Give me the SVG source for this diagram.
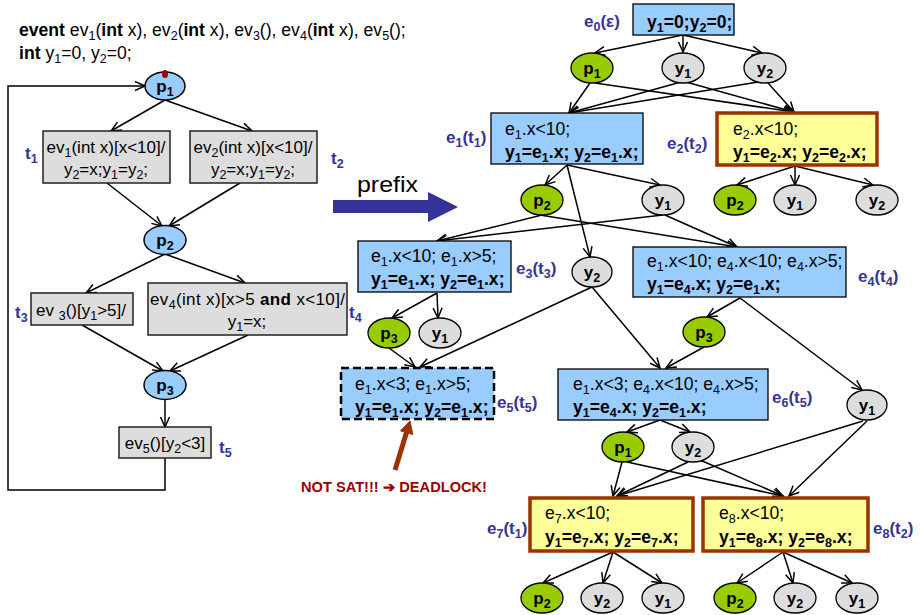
<svg xmlns="http://www.w3.org/2000/svg" width="920" height="615" viewBox="0 0 920 615">
<defs>
<marker id="a" viewBox="-12 -7 14 14" refX="0" refY="0" markerWidth="14" markerHeight="14" markerUnits="userSpaceOnUse" orient="auto">
<path d="M-10,-4.5 L0,0 L-10,4.5" fill="none" stroke="#000" stroke-width="1.5"/>
</marker>
</defs>
<style>
text{font-family:"Liberation Sans",Arial,Helvetica,sans-serif;fill:#000}
.f16{font-size:17px}
.f17{font-size:17.6px}
.b{font-weight:bold}
.s{font-size:12.5px;baseline-shift:-4px}
.ctr{text-anchor:middle}
.lab{fill:#333399;font-weight:bold;font-size:17px}
.blue{fill:#99ccff;stroke:#000;stroke-width:1.3}
.yel{fill:#ffff99;stroke:#993300;stroke-width:3.5}
.dash{fill:#99ccff;stroke:#000;stroke-width:2.5;stroke-dasharray:8 4}
.grn{fill:#99cc00;stroke:#000;stroke-width:1.3}
.gry{fill:#dddddd;stroke:#000;stroke-width:1.3}
.pl{fill:#99ccff;stroke:#000;stroke-width:1.5}
.lbox{fill:#dddddd;stroke:#222;stroke-width:1.5}
.e{stroke:#000;stroke-width:1.5;fill:none;marker-end:url(#a)}
.nt{font-size:17px;font-weight:bold;text-anchor:middle}
</style>

<!-- declarations -->
<g id="code" class="f17">
<text x="19" y="36"><tspan class="b">event</tspan> ev<tspan class="s">1</tspan>(<tspan class="b">int</tspan> x), ev<tspan class="s">2</tspan>(<tspan class="b">int</tspan> x), ev<tspan class="s">3</tspan>(), ev<tspan class="s">4</tspan>(<tspan class="b">int</tspan> x), ev<tspan class="s">5</tspan>();</text>
<text x="19" y="59"><tspan class="b">int</tspan> y<tspan class="s">1</tspan>=0, y<tspan class="s">2</tspan>=0;</text>
</g>

<!-- connectors -->
<g id="connectors">
<!-- left program graph -->
<line class="e" x1="165" y1="100" x2="111" y2="131"/>
<line class="e" x1="165" y1="100" x2="252" y2="131"/>
<line class="e" x1="107" y1="183" x2="162" y2="226"/>
<line class="e" x1="240" y1="183" x2="169" y2="226"/>
<line class="e" x1="165" y1="254" x2="86" y2="293"/>
<line class="e" x1="165" y1="254" x2="245" y2="283"/>
<line class="e" x1="82" y1="325" x2="163" y2="371"/>
<line class="e" x1="248" y1="335" x2="170" y2="371"/>
<line class="e" x1="165" y1="399" x2="165" y2="427"/>
<path class="e" d="M165,458 V490 H8 V86 H145"/>
<!-- unfolding top -->
<line class="e" x1="683" y1="35" x2="595" y2="53"/>
<line class="e" x1="683" y1="35" x2="683" y2="52"/>
<line class="e" x1="683" y1="35" x2="762" y2="53"/>
<line class="e" x1="590" y1="83" x2="569" y2="113"/>
<line class="e" x1="681" y1="82" x2="569" y2="113"/>
<line class="e" x1="758" y1="82" x2="569" y2="113"/>
<line class="e" x1="595" y1="83" x2="794" y2="112"/>
<line class="e" x1="686" y1="82" x2="794" y2="112"/>
<line class="e" x1="768" y1="83" x2="794" y2="112"/>
<!-- e1 / e2 children -->
<line class="e" x1="567" y1="165" x2="545" y2="185"/>
<line class="e" x1="567" y1="165" x2="660" y2="185"/>
<line class="e" x1="567" y1="165" x2="590" y2="257"/>
<line class="e" x1="795" y1="166" x2="737" y2="185"/>
<line class="e" x1="795" y1="166" x2="795" y2="185"/>
<line class="e" x1="795" y1="166" x2="873" y2="185"/>
<!-- into e3, e4 -->
<line class="e" x1="542" y1="215" x2="437" y2="241"/>
<line class="e" x1="663" y1="215" x2="437" y2="241"/>
<line class="e" x1="540" y1="215" x2="737" y2="247"/>
<line class="e" x1="665" y1="215" x2="737" y2="247"/>
<!-- e3 children -->
<line class="e" x1="437" y1="293" x2="392" y2="318"/>
<line class="e" x1="437" y1="293" x2="438" y2="318"/>
<!-- e4 children -->
<line class="e" x1="740" y1="298" x2="707" y2="317"/>
<line class="e" x1="740" y1="298" x2="862" y2="390"/>
<!-- into e5 -->
<line class="e" x1="389" y1="348" x2="415" y2="367"/>
<line class="e" x1="592" y1="287" x2="420" y2="367"/>
<!-- into e6 -->
<line class="e" x1="592" y1="287" x2="660" y2="368"/>
<line class="e" x1="704" y1="347" x2="666" y2="368"/>
<!-- e6 children -->
<line class="e" x1="660" y1="420" x2="627" y2="432"/>
<line class="e" x1="660" y1="420" x2="690" y2="432"/>
<!-- into e7, e8 -->
<line class="e" x1="622" y1="462" x2="613" y2="496"/>
<line class="e" x1="627" y1="462" x2="783" y2="496"/>
<line class="e" x1="688" y1="462" x2="617" y2="496"/>
<line class="e" x1="700" y1="460" x2="783" y2="496"/>
<line class="e" x1="863" y1="421" x2="617" y2="496"/>
<line class="e" x1="867" y1="421" x2="789" y2="496"/>
<!-- e7 / e8 children -->
<line class="e" x1="613" y1="552" x2="543" y2="583"/>
<line class="e" x1="613" y1="552" x2="603" y2="583"/>
<line class="e" x1="613" y1="552" x2="662" y2="583"/>
<line class="e" x1="783" y1="552" x2="737" y2="583"/>
<line class="e" x1="783" y1="552" x2="793" y2="583"/>
<line class="e" x1="783" y1="552" x2="852" y2="583"/>
<!-- deadlock pointer -->
<line x1="395" y1="470" x2="406.5" y2="432.5" stroke="#993300" stroke-width="5"/>
<polygon points="410,421 412.8,434.5 400.5,430.8" fill="#993300" stroke="#993300" stroke-width="1"/>
</g>

<!-- left program nodes -->
<g id="P1">
<ellipse class="pl" cx="165" cy="86" rx="20" ry="14"/>
<ellipse cx="165" cy="74" rx="3" ry="4" fill="#990000"/>
<text class="nt" x="165" y="92">p<tspan class="s">1</tspan></text>
</g>
<g id="T1" class="f16">
<rect class="lbox" x="43" y="131" width="127" height="52"/>
<text class="ctr" x="106" y="153">ev<tspan class="s">1</tspan>(int x)[x&lt;10]/</text>
<text class="ctr" x="106" y="175">y<tspan class="s">2</tspan>=x;y<tspan class="s">1</tspan>=y<tspan class="s">2</tspan>;</text>
<text class="lab" x="25" y="159">t<tspan class="s">1</tspan></text>
</g>
<g id="T2" class="f16">
<rect class="lbox" x="190" y="131" width="127" height="52"/>
<text class="ctr" x="253" y="153">ev<tspan class="s">2</tspan>(int x)[x&lt;10]/</text>
<text class="ctr" x="253" y="175">y<tspan class="s">2</tspan>=x;y<tspan class="s">1</tspan>=y<tspan class="s">2</tspan>;</text>
<text class="lab" x="331" y="164">t<tspan class="s">2</tspan></text>
</g>
<g id="P2">
<ellipse class="pl" cx="165" cy="240" rx="21" ry="14.5"/>
<text class="nt" x="165" y="246">p<tspan class="s">2</tspan></text>
</g>
<g id="T3" class="f16">
<rect class="lbox" x="31" y="293" width="102" height="32"/>
<text x="36" y="316">ev <tspan class="s">3</tspan>()[y<tspan class="s">1</tspan>&gt;5]/</text>
<text class="lab" x="15" y="318">t<tspan class="s">3</tspan></text>
</g>
<g id="T4" class="f16">
<rect class="lbox" x="148" y="283" width="199" height="52"/>
<text x="150" y="305" textLength="195" lengthAdjust="spacing">ev<tspan class="s">4</tspan>(int x)[x&gt;5 <tspan class="b">and</tspan> x&lt;10]/</text>
<text class="ctr" x="247" y="327">y<tspan class="s">1</tspan>=x;</text>
<text class="lab" x="349" y="318">t<tspan class="s">4</tspan></text>
</g>
<g id="P3">
<ellipse class="pl" cx="165" cy="385" rx="21" ry="14.5"/>
<text class="nt" x="165" y="391">p<tspan class="s">3</tspan></text>
</g>
<g id="T5" class="f16">
<rect class="lbox" x="119" y="427" width="92" height="31"/>
<text class="ctr" x="165" y="449">ev<tspan class="s">5</tspan>()[y<tspan class="s">2</tspan>&lt;3]</text>
<text class="lab" x="219" y="453">t<tspan class="s">5</tspan></text>
</g>

<!-- prefix arrow -->
<g id="prefix">
<polygon points="333,200 428,200 428,192 458,207 428,222 428,213 333,213" fill="#333399"/>
<text x="357" y="192" font-size="22" textLength="61" lengthAdjust="spacingAndGlyphs">prefix</text>
</g>

<!-- unfolding nodes -->
<g id="E0" class="f17">
<rect class="blue" x="633" y="4" width="101" height="31"/>
<text class="b" x="647" y="28">y<tspan class="s">1</tspan>=0;y<tspan class="s">2</tspan>=0;</text>
<text class="lab" x="584" y="27">e<tspan class="s">0</tspan>(ε)</text>
</g>
<g id="C0p1"><ellipse class="grn" cx="592" cy="68" rx="21" ry="15"/><text class="nt" x="592" y="74">p<tspan class="s">1</tspan></text></g>
<g id="C0y1"><ellipse class="gry" cx="683" cy="68" rx="21" ry="15"/><text class="nt" x="683" y="74">y<tspan class="s">1</tspan></text></g>
<g id="C0y2"><ellipse class="gry" cx="765" cy="68" rx="21" ry="15"/><text class="nt" x="765" y="74">y<tspan class="s">2</tspan></text></g>

<g id="E1" class="f17">
<rect class="blue" x="491" y="113" width="152" height="51"/>
<text x="505" y="135">e<tspan class="s">1</tspan>.x&lt;10;</text>
<text class="b" x="505" y="158">y<tspan class="s">1</tspan>=e<tspan class="s">1</tspan>.x; y<tspan class="s">2</tspan>=e<tspan class="s">1</tspan>.x;</text>
<text class="lab" x="446" y="143">e<tspan class="s">1</tspan>(t<tspan class="s">1</tspan>)</text>
</g>
<g id="E2" class="f17">
<rect class="yel" x="717" y="113" width="160" height="52"/>
<text x="733" y="135">e<tspan class="s">2</tspan>.x&lt;10;</text>
<text class="b" x="733" y="158">y<tspan class="s">1</tspan>=e<tspan class="s">2</tspan>.x; y<tspan class="s">2</tspan>=e<tspan class="s">2</tspan>.x;</text>
<text class="lab" x="667" y="149">e<tspan class="s">2</tspan>(t<tspan class="s">2</tspan>)</text>
</g>
<g id="C1p2"><ellipse class="grn" cx="542" cy="200" rx="21" ry="15"/><text class="nt" x="542" y="206">p<tspan class="s">2</tspan></text></g>
<g id="C1y1"><ellipse class="gry" cx="663" cy="200" rx="21" ry="15"/><text class="nt" x="663" y="206">y<tspan class="s">1</tspan></text></g>
<g id="C2p2"><ellipse class="grn" cx="735" cy="200" rx="21" ry="15"/><text class="nt" x="735" y="206">p<tspan class="s">2</tspan></text></g>
<g id="C2y1"><ellipse class="gry" cx="795" cy="200" rx="21" ry="15"/><text class="nt" x="795" y="206">y<tspan class="s">1</tspan></text></g>
<g id="C2y2"><ellipse class="gry" cx="877" cy="200" rx="21" ry="15"/><text class="nt" x="877" y="206">y<tspan class="s">2</tspan></text></g>
<g id="C1y2"><ellipse class="gry" cx="592" cy="272" rx="20" ry="15"/><text class="nt" x="592" y="278">y<tspan class="s">2</tspan></text></g>

<g id="E3" class="f17">
<rect class="blue" x="358" y="241" width="153" height="51"/>
<text x="371" y="262">e<tspan class="s">1</tspan>.x&lt;10; e<tspan class="s">1</tspan>.x&gt;5;</text>
<text class="b" x="371" y="285">y<tspan class="s">1</tspan>=e<tspan class="s">1</tspan>.x; y<tspan class="s">2</tspan>=e<tspan class="s">1</tspan>.x;</text>
<text class="lab" x="516" y="274">e<tspan class="s">3</tspan>(t<tspan class="s">3</tspan>)</text>
</g>
<g id="E4" class="f17">
<rect class="blue" x="633" y="247" width="213" height="50"/>
<text x="647" y="267">e<tspan class="s">1</tspan>.x&lt;10; e<tspan class="s">4</tspan>.x&lt;10; e<tspan class="s">4</tspan>.x&gt;5;</text>
<text class="b" x="647" y="290">y<tspan class="s">1</tspan>=e<tspan class="s">4</tspan>.x; y<tspan class="s">2</tspan>=e<tspan class="s">1</tspan>.x;</text>
<text class="lab" x="858" y="282">e<tspan class="s">4</tspan>(t<tspan class="s">4</tspan>)</text>
</g>
<g id="C3p3"><ellipse class="grn" cx="389" cy="333" rx="21" ry="15"/><text class="nt" x="389" y="339">p<tspan class="s">3</tspan></text></g>
<g id="C3y1"><ellipse class="gry" cx="440" cy="333" rx="21" ry="15"/><text class="nt" x="440" y="339">y<tspan class="s">1</tspan></text></g>
<g id="C4p3"><ellipse class="grn" cx="704" cy="332" rx="21" ry="15"/><text class="nt" x="704" y="338">p<tspan class="s">3</tspan></text></g>
<g id="C4y1"><ellipse class="gry" cx="867" cy="405" rx="20" ry="15"/><text class="nt" x="867" y="411">y<tspan class="s">1</tspan></text></g>

<g id="E5" class="f17">
<rect class="dash" x="341" y="368" width="153" height="51"/>
<text x="355" y="390">e<tspan class="s">1</tspan>.x&lt;3; e<tspan class="s">1</tspan>.x&gt;5;</text>
<text class="b" x="355" y="413">y<tspan class="s">1</tspan>=e<tspan class="s">1</tspan>.x; y<tspan class="s">2</tspan>=e<tspan class="s">1</tspan>.x;</text>
<text class="lab" x="497" y="408">e<tspan class="s">5</tspan>(t<tspan class="s">5</tspan>)</text>
</g>
<g id="E6" class="f17">
<rect class="blue" x="558" y="369" width="210" height="51"/>
<text x="573" y="390">e<tspan class="s">1</tspan>.x&lt;3; e<tspan class="s">4</tspan>.x&lt;10; e<tspan class="s">4</tspan>.x&gt;5;</text>
<text class="b" x="573" y="413">y<tspan class="s">1</tspan>=e<tspan class="s">4</tspan>.x; y<tspan class="s">2</tspan>=e<tspan class="s">1</tspan>.x;</text>
<text class="lab" x="772" y="403">e<tspan class="s">6</tspan>(t<tspan class="s">5</tspan>)</text>
</g>
<g id="C6p1"><ellipse class="grn" cx="623" cy="447" rx="21" ry="15"/><text class="nt" x="623" y="453">p<tspan class="s">1</tspan></text></g>
<g id="C6y2"><ellipse class="gry" cx="693" cy="447" rx="21" ry="15"/><text class="nt" x="693" y="453">y<tspan class="s">2</tspan></text></g>

<g id="E7" class="f17">
<rect class="yel" x="530" y="498" width="163" height="53"/>
<text x="545" y="519">e<tspan class="s">7</tspan>.x&lt;10;</text>
<text class="b" x="545" y="543">y<tspan class="s">1</tspan>=e<tspan class="s">7</tspan>.x; y<tspan class="s">2</tspan>=e<tspan class="s">7</tspan>.x;</text>
<text class="lab" x="487" y="534">e<tspan class="s">7</tspan>(t<tspan class="s">1</tspan>)</text>
</g>
<g id="E8" class="f17">
<rect class="yel" x="703" y="498" width="165" height="53"/>
<text x="719" y="519">e<tspan class="s">8</tspan>.x&lt;10;</text>
<text class="b" x="719" y="543">y<tspan class="s">1</tspan>=e<tspan class="s">8</tspan>.x; y<tspan class="s">2</tspan>=e<tspan class="s">8</tspan>.x;</text>
<text class="lab" x="873" y="534">e<tspan class="s">8</tspan>(t<tspan class="s">2</tspan>)</text>
</g>
<g id="C7p2"><ellipse class="grn" cx="542" cy="598" rx="21" ry="15"/><text class="nt" x="542" y="604">p<tspan class="s">2</tspan></text></g>
<g id="C7y2"><ellipse class="gry" cx="602" cy="598" rx="21" ry="15"/><text class="nt" x="602" y="604">y<tspan class="s">2</tspan></text></g>
<g id="C7y1"><ellipse class="gry" cx="663" cy="598" rx="21" ry="15"/><text class="nt" x="663" y="604">y<tspan class="s">1</tspan></text></g>
<g id="C8p2"><ellipse class="grn" cx="735" cy="598" rx="21" ry="15"/><text class="nt" x="735" y="604">p<tspan class="s">2</tspan></text></g>
<g id="C8y2"><ellipse class="gry" cx="795" cy="598" rx="21" ry="15"/><text class="nt" x="795" y="604">y<tspan class="s">2</tspan></text></g>
<g id="C8y1"><ellipse class="gry" cx="857" cy="598" rx="21" ry="15"/><text class="nt" x="857" y="604">y<tspan class="s">1</tspan></text></g>

<g id="deadlock">
<text x="301" y="492" font-size="14" font-weight="bold" style="fill:#990000" textLength="186" lengthAdjust="spacingAndGlyphs">NOT SAT!!! ➔ DEADLOCK!</text>
</g>
</svg>
